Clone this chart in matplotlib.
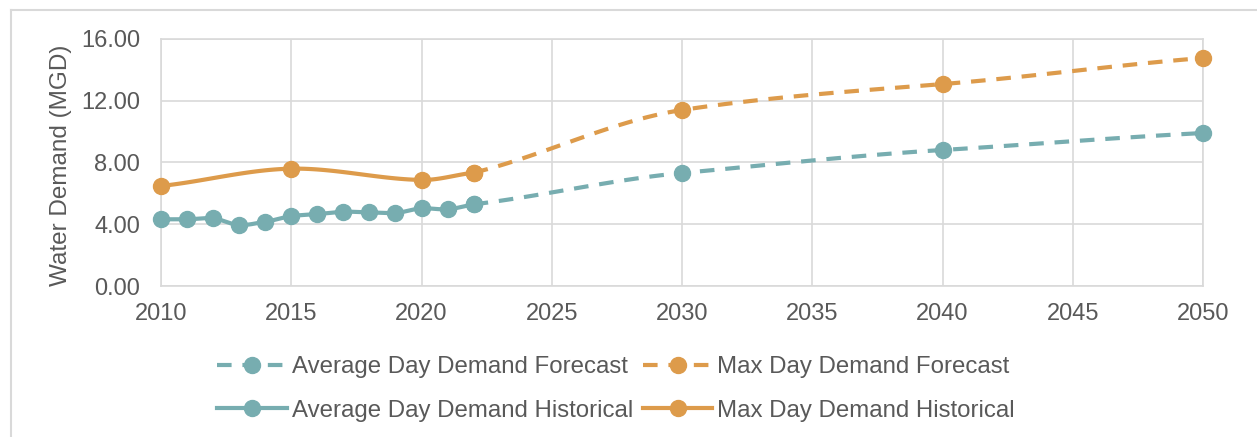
"""Water demand: historical and forecast average / max day demand (MGD)."""
import numpy as np
import matplotlib.pyplot as plt
from matplotlib.lines import Line2D

plt.rcParams['font.family'] = ['Liberation Sans', 'DejaVu Sans']

# Historical series
avg_hist_years = [2010, 2011, 2012, 2013, 2014, 2015, 2016, 2017, 2018, 2019, 2020, 2021, 2022]
avg_hist = [4.32, 4.32, 4.38, 3.95, 4.16, 4.53, 4.66, 4.81, 4.77, 4.73, 5.03, 4.97, 5.29]
max_hist_years = [2010, 2015, 2020, 2022]
max_hist = [6.48, 7.60, 6.87, 7.34]

# Forecast series (start from the last historical year)
fc_years = [2022, 2030, 2040, 2050]
avg_fc = [5.29, 7.32, 8.81, 9.91]
max_fc = [7.34, 11.40, 13.08, 14.77]

TEAL = '#77adb0'
ORANGE = '#dd9b4b'
GRID = '#d9d9d9'
TEXT = '#595959'


def smooth(x, y, n=30):
    """Cardinal-spline curve through the points, like a spreadsheet 'smoothed line'."""
    x = np.asarray(x, float)
    y = np.asarray(y, float)
    if len(x) < 3:
        return x, y
    # tangents from neighbouring points
    m = np.zeros(len(x))
    m[1:-1] = (y[2:] - y[:-2]) / (x[2:] - x[:-2])
    m[0] = (y[1] - y[0]) / (x[1] - x[0])
    m[-1] = (y[-1] - y[-2]) / (x[-1] - x[-2])
    m *= 0.8
    xs, ys = [], []
    for i in range(len(x) - 1):
        h = x[i + 1] - x[i]
        t = np.linspace(0, 1, n, endpoint=(i == len(x) - 2))
        h00 = 2 * t**3 - 3 * t**2 + 1
        h10 = t**3 - 2 * t**2 + t
        h01 = -2 * t**3 + 3 * t**2
        h11 = t**3 - t**2
        xs.append(x[i] + t * h)
        ys.append(h00 * y[i] + h10 * h * m[i] + h01 * y[i + 1] + h11 * h * m[i + 1])
    return np.concatenate(xs), np.concatenate(ys)


fig = plt.figure(figsize=(12.57, 4.37), dpi=100)
ax = fig.add_axes([0.1281, 0.3455, 0.8290, 0.5653])

# outer frame of the chart area
fig.add_artist(Line2D([0.00875, 1.0], [0.977, 0.977], color=GRID, lw=1.5))
fig.add_artist(Line2D([0.00875, 0.00875], [0.0, 0.977], color=GRID, lw=1.5))

lw = 3.0
ms = 11.5
dash = (3.5, 2.6)

for yrs, vals, col in [(fc_years, avg_fc, TEAL), (fc_years, max_fc, ORANGE)]:
    sx, sy = smooth(yrs, vals)
    ax.plot(sx, sy, color=col, lw=lw, dashes=dash, zorder=2)
    ax.plot(yrs, vals, 'o', color=col, ms=ms, zorder=3, clip_on=False)

for yrs, vals, col in [(avg_hist_years, avg_hist, TEAL), (max_hist_years, max_hist, ORANGE)]:
    sx, sy = smooth(yrs, vals)
    ax.plot(sx, sy, color=col, lw=lw, solid_capstyle='round', zorder=4)
    ax.plot(yrs, vals, 'o', color=col, ms=ms, zorder=5, clip_on=False)

ax.set_xlim(2010, 2050)
ax.set_ylim(0, 16)
ax.set_xticks(range(2010, 2051, 5))
ax.set_yticks([0, 4, 8, 12, 16])
ax.set_yticklabels([f'{v:.2f}' for v in [0, 4, 8, 12, 16]])
ax.grid(True, color=GRID, lw=1.2, zorder=0)
ax.set_axisbelow(True)
for sp in ax.spines.values():
    sp.set_color(GRID)
    sp.set_linewidth(1.2)
ax.tick_params(axis='both', length=0, labelsize=17, colors=TEXT)
ax.tick_params(axis='y', pad=15)
ax.tick_params(axis='x', pad=12)
ax.set_ylabel('Water Demand (MGD)', fontsize=17.5, color=TEXT)
ax.yaxis.set_label_coords(-0.085, 0.49)

# legend fills column by column: forecasts on the first row, historical on the second
handles = [
    Line2D([], [], color=TEAL, lw=lw, dashes=dash, marker='o', ms=ms),
    Line2D([], [], color=TEAL, lw=lw, marker='o', ms=ms),
    Line2D([], [], color=ORANGE, lw=lw, dashes=dash, marker='o', ms=ms),
    Line2D([], [], color=ORANGE, lw=lw, marker='o', ms=ms),
]
labels = ['Average Day Demand Forecast', 'Average Day Demand Historical',
          'Max Day Demand Forecast', 'Max Day Demand Historical']
leg = fig.legend(handles, labels, ncol=2, loc='upper left',
                 bbox_to_anchor=(0.173, 0.185), frameon=False, fontsize=17.3,
                 handlelength=2.9, handletextpad=0.2, columnspacing=0.4,
                 labelspacing=0.9, borderaxespad=0, borderpad=0)
for t in leg.get_texts():
    t.set_color(TEXT)

fig.savefig('out.png', dpi=100)
